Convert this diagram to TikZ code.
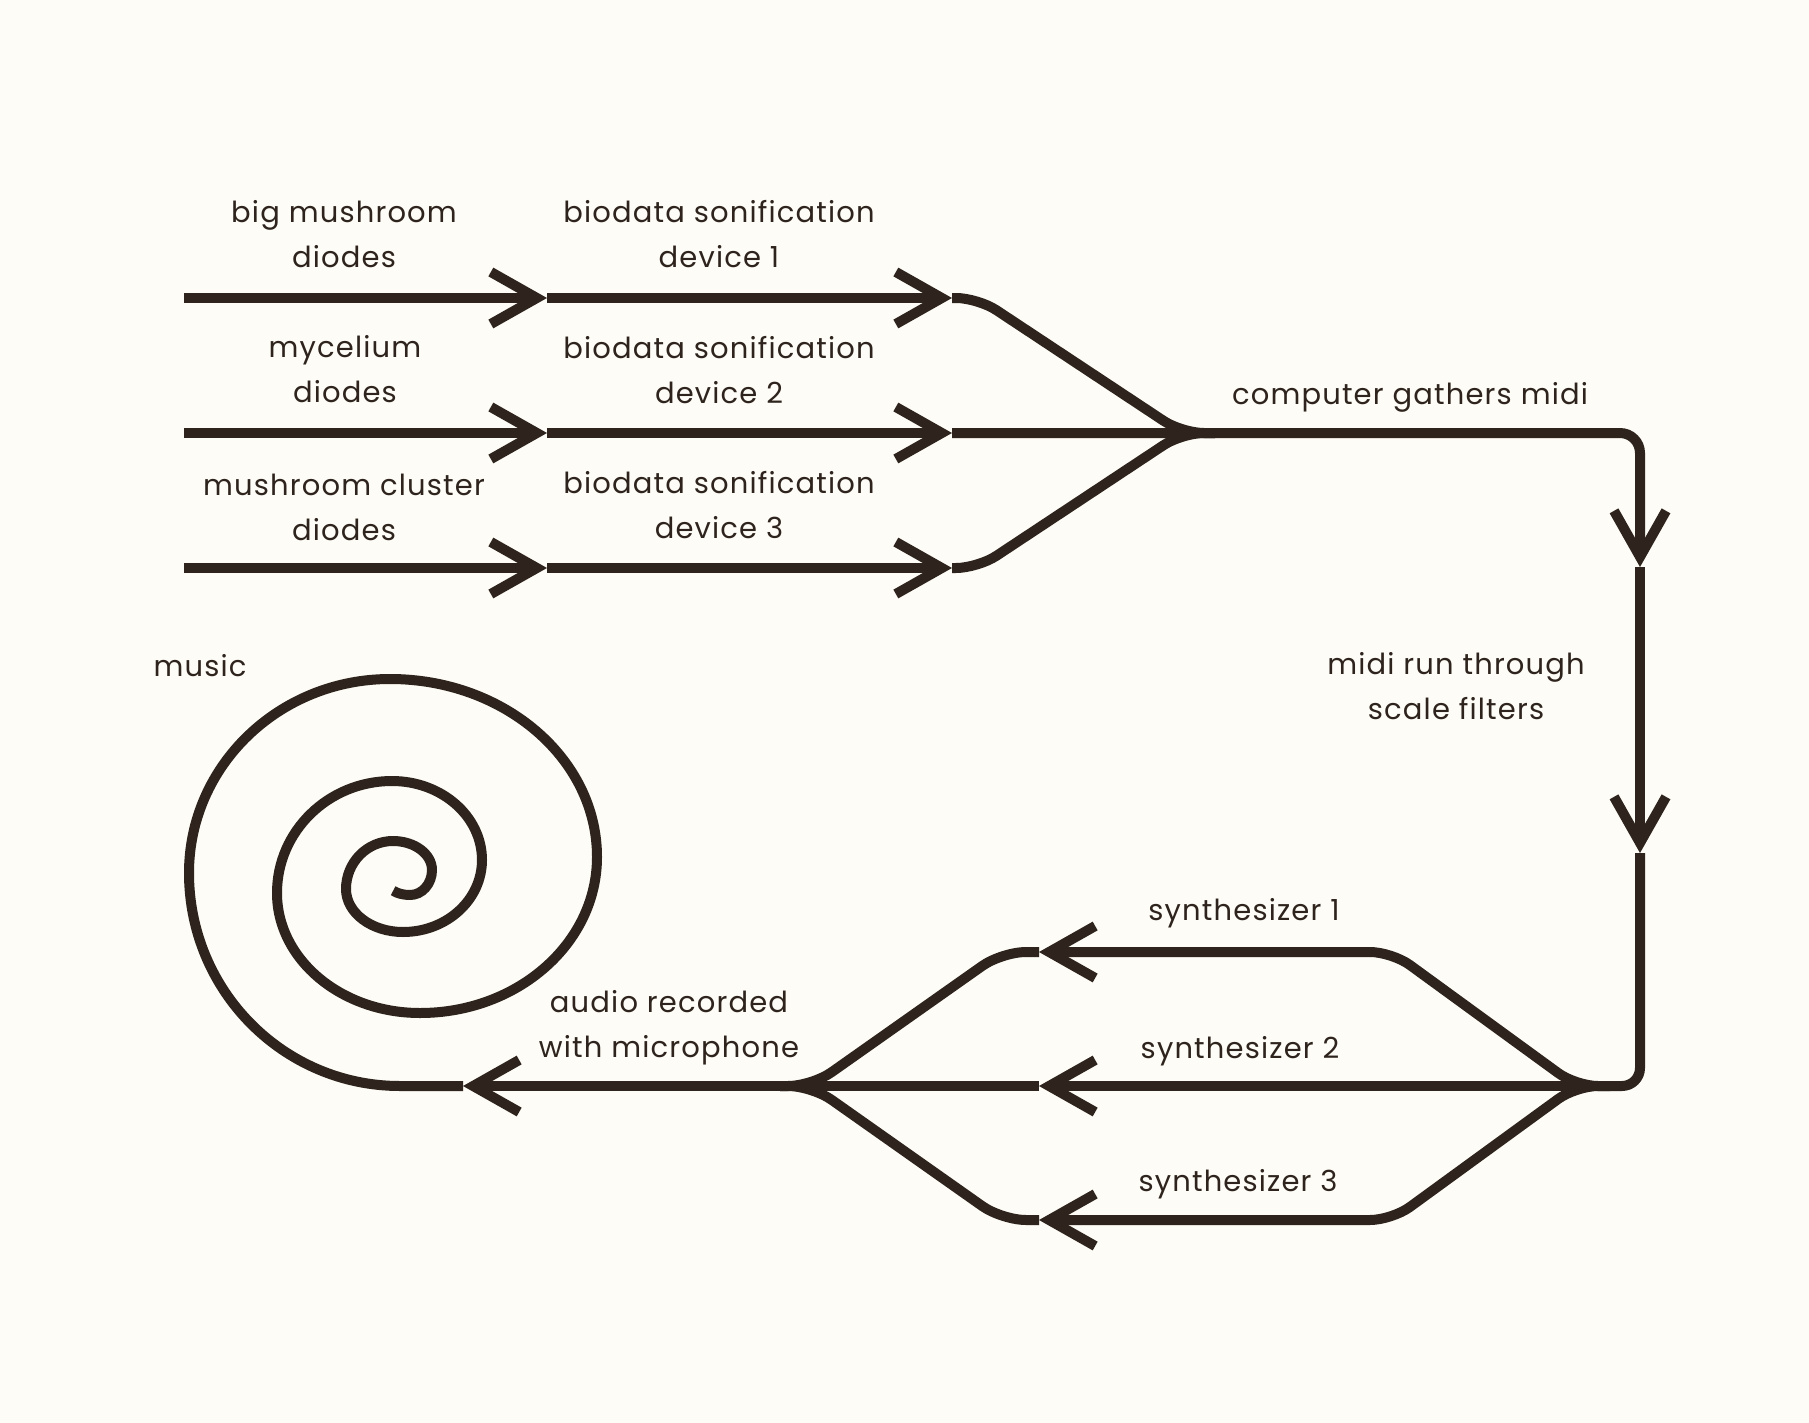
\documentclass[tikz,border=0pt]{standalone}
\usepackage{fontspec}
\setmainfont{Poppins}[LetterSpace=4]
\usepackage{tikz}
\usetikzlibrary{arrows.meta,positioning}
\definecolor{ink}{RGB}{46,36,29}
\definecolor{paper}{RGB}{253,252,246}
\tikzset{
	flow chart/.style={x=.5pt, y=.5pt, line join=round},
	wire/.style={draw=ink, line width=5pt},
	ar/.style={-{Straight Barb[length=23pt,width=26pt,sharp]}},
	lbl/.style={text=ink, align=center, inner sep=0pt,
		font=\fontsize{14.5}{22.5}\selectfont},
}

\begin{document}
\begin{tikzpicture}[flow chart]
  \fill[paper] (0,0) rectangle (1809,-1423);
  % top rows: sources and devices
  \coordinate (s1) at (184,-298);  \coordinate (s2) at (184,-433);  \coordinate (s3) at (184,-568);
  \coordinate (d1) at (547,-298);  \coordinate (d2) at (547,-433);  \coordinate (d3) at (547,-568);
  \coordinate (b1) at (952,-298);  \coordinate (b2) at (952,-433);  \coordinate (b3) at (952,-568);
  \coordinate (k1) at (978,-298);  \coordinate (k3) at (978,-568);
  \coordinate (M) at (1182,-433);  \coordinate (Mr) at (1215,-433);
  % right side
  \coordinate (c1) at (1640,-433);
  \coordinate (v1) at (1640,-567); \coordinate (v2) at (1640,-853);
  \coordinate (c2) at (1640,-1086);
  \coordinate (R) at (1576,-1086); \coordinate (Rr) at (1610,-1086);
  % synthesizers
  \coordinate (q1) at (1392,-952); \coordinate (q3) at (1392,-1220);
  \coordinate (p1) at (1039,-952); \coordinate (p2) at (1039,-1086); \coordinate (p3) at (1039,-1220);
  \coordinate (j1) at (1002,-952); \coordinate (j3) at (1002,-1220);
  \coordinate (L) at (812,-1086);  \coordinate (Ll) at (780,-1086);
  \coordinate (mic) at (463,-1086);
  \coordinate (sp0) at (400,-1086);

  \foreach \i in {1,2,3} {
    \draw[wire,ar] (s\i) -- (d\i);
    \draw[wire,ar] (d\i) -- (b\i);
  }
  \draw[wire,rounded corners=11pt] (b1) -- (k1) -- (M) -- (Mr);
  \draw[wire,rounded corners=11pt] (b3) -- (k3) -- (M) -- (Mr);
  \draw[wire,ar,rounded corners=10pt] (b2) -- (c1) -- (v1);
  \draw[wire,ar] (v1) -- (v2);
  \draw[wire,rounded corners=9pt] (v2) -- (c2) -- (Rr);

  \draw[wire,ar,rounded corners=11pt] (Rr) -- (R) -- (q1) -- (p1);
  \draw[wire,ar] (Rr) -- (p2);
  \draw[wire,ar,rounded corners=11pt] (Rr) -- (R) -- (q3) -- (p3);
  \draw[wire,rounded corners=12pt] (p1) -- (j1) -- (L) -- (Ll);
  \draw[wire] (p2) -- (L);
  \draw[wire,rounded corners=12pt] (p3) -- (j3) -- (L) -- (Ll);
  \draw[wire,ar] (Ll) -- (mic);

  % the spiral
  \draw[wire] (mic) -- (sp0)
    arc[start angle=270, end angle=180, x radius=211, y radius=213]
    arc[start angle=180, end angle=90, x radius=201, y radius=194]
    arc[start angle=90, end angle=0, x radius=207, y radius=178]
    arc[start angle=0, end angle=-90, x radius=177, y radius=156]
    arc[start angle=270, end angle=180, x radius=143, y radius=120]
    arc[start angle=180, end angle=90, x radius=115, y radius=112]
    arc[start angle=90, end angle=0, x radius=90, y radius=79]
    arc[start angle=0, end angle=-90, x radius=79, y radius=72]
    arc[start angle=270, end angle=180, x radius=57, y radius=43]
    arc[start angle=180, end angle=90, x radius=47, y radius=48]
    arc[start angle=90, end angle=0, x radius=39, y radius=29]
    arc[start angle=0, end angle=-90, x radius=22, y radius=25]
    arc[start angle=270, end angle=220, x radius=22, y radius=12];

  % labels
  \node[lbl] (bigmush) at (344,-234) {big mushroom\\diodes};
  \node[lbl] (dev1) at (719,-234) {biodata sonification\\device 1};
  \node[lbl] (mycel) at (345,-369) {mycelium\\diodes};
  \node[lbl] (dev2) at (719,-370) {biodata sonification\\device 2};
  \node[lbl] (cluster) at (344,-507) {mushroom cluster\\diodes};
  \node[lbl] (dev3) at (719,-505) {biodata sonification\\device 3};
  \node[lbl] (gather) at (1410,-397) {computer gathers midi};
  \node[lbl] (filter) at (1456,-686) {midi run through\\scale filters};
  \node[lbl] (music) at (200,-666) {music};
  \node[lbl] (audio) at (669,-1028) {audio recorded\\with microphone};
  \node[lbl] (syn1) at (1244,-913) {synthesizer 1};
  \node[lbl] (syn2) at (1240,-1051) {synthesizer 2};
  \node[lbl] (syn3) at (1238,-1184) {synthesizer 3};
\end{tikzpicture}
\end{document}
